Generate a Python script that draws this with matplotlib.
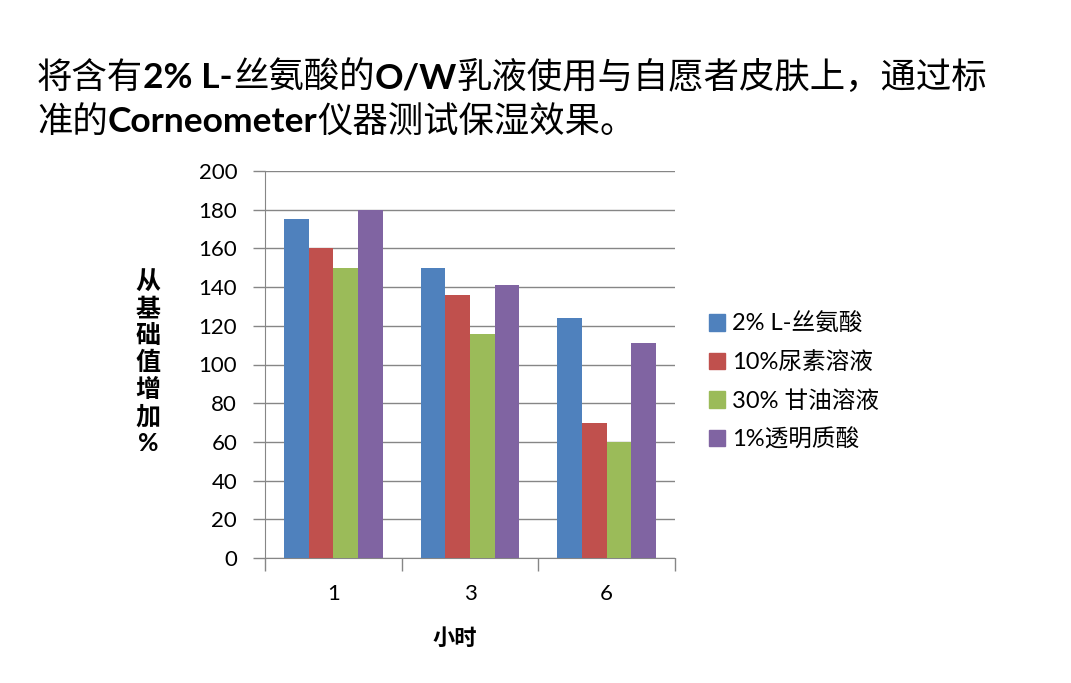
import matplotlib
matplotlib.use("Agg")
import matplotlib.pyplot as plt
from matplotlib.patches import Patch
import numpy as np

# data
hours = ["1", "3", "6"]
series_names = ["2% L-丝氨酸", "10%尿素溶液", "30% 甘油溶液", "1%透明质酸"]
serine = [175, 150, 124]
urea = [160, 136, 70]
glycerol = [150, 116, 60]
hyaluronic = [180, 141, 111]
colors = ["#4F81BD", "#C0504D", "#9BBB59", "#8064A2"]

title_line1 = [("将含有", False), ("2% L-", True), ("丝氨酸的", False), ("O/W", True),
               ("乳液使用与自愿者皮肤上，通过标", False)]
title_line2 = [("准的", False), ("Corneometer", True), ("仪器测试保湿效果。", False)]
ylabel = "从基础值增加%"
xlabel = "小时"

CJK = "Noto Sans CJK SC"
LAT = ["Lato", CJK]
grey = "#868686"

W, H = 1071, 683
fig = plt.figure(figsize=(W / 100, H / 100), dpi=100)
ax = fig.add_axes([265 / W, 1 - 558 / H, 410 / W, 387 / H])

x = np.arange(len(hours))
bw = 0.18
all_vals = [serine, urea, glycerol, hyaluronic]
for i, vals in enumerate(all_vals):
    ax.bar(x + (i - 1.5) * bw, vals, bw, color=colors[i], zorder=3)

ax.set_xlim(-0.5, 2.5)
ax.set_ylim(0, 200)
ax.set_yticks(range(0, 201, 20))
ax.set_xticks(x)
ax.set_xticklabels(hours)
ax.set_xticks([-0.5, 0.5, 1.5, 2.5], minor=True)
ax.tick_params(axis="x", which="major", length=0, pad=19, labelsize=16)
ax.tick_params(axis="x", which="minor", length=9, color=grey, width=1)
ax.tick_params(axis="y", length=9, color=grey, width=1, pad=11, labelsize=16)
for lab in ax.get_xticklabels() + ax.get_yticklabels():
    lab.set_family(LAT)
ax.yaxis.grid(True, color=grey, lw=1, zorder=0)
for s in ["top", "right"]:
    ax.spines[s].set_visible(False)
for s in ["left", "bottom"]:
    ax.spines[s].set_color(grey)

# axis titles
fig.text(455 / W, 1 - 638 / H, xlabel, ha="center", va="center", fontsize=16,
         fontweight="bold", family=CJK)
fig.text(148 / W, 1 - 363 / H, "\n".join(ylabel), ha="center", va="center", fontsize=18,
         fontweight="bold", family=LAT, linespacing=1.2)

# legend
handles = [Patch(color=c) for c in colors]
fig.legend(handles, series_names, loc="upper left", bbox_to_anchor=(697 / W, 1 - 301 / H),
           frameon=False, handlelength=0.7, handleheight=0.7, handletextpad=0.3,
           labelspacing=0.7, borderpad=0, prop={"family": LAT, "size": 17})

# title with bold latin parts
renderer = fig.canvas.get_renderer()


def rich_line(parts, x0, y0, size=25.5):
    xx = x0
    for s, bold in parts:
        t = fig.text(xx, y0, s, transform=None, va="baseline", ha="left", fontsize=size,
                     fontweight="bold" if bold else "normal", family=LAT if bold else CJK)
        xx += t.get_window_extent(renderer).width


rich_line(title_line1, 37, H - 88)
rich_line(title_line2, 37, H - 132)

fig.savefig("out.png", dpi=100)
